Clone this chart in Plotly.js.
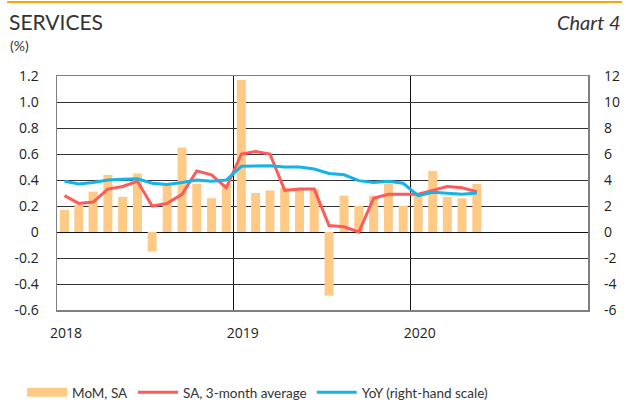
<!DOCTYPE html>
<html>
<head>
<meta charset="utf-8">
<script src="https://cdn.plot.ly/plotly-3.0.1.min.js"></script>
<style>html,body{margin:0;padding:0;background:#fff;}#chart{width:630px;height:403px;}</style>
</head>
<body>
<div id="chart"></div>
<script>
const months = ["2018-01","2018-02","2018-03","2018-04","2018-05","2018-06","2018-07","2018-08","2018-09","2018-10","2018-11","2018-12",
"2019-01","2019-02","2019-03","2019-04","2019-05","2019-06","2019-07","2019-08","2019-09","2019-10","2019-11","2019-12",
"2020-01","2020-02","2020-03","2020-04","2020-05"];
const momSA = [0.17,0.21,0.31,0.44,0.27,0.45,-0.15,0.36,0.65,0.37,0.26,0.37,
1.17,0.30,0.32,0.34,0.33,0.33,-0.49,0.28,0.20,0.28,0.37,0.20,
0.28,0.47,0.27,0.26,0.37];
const sa3m = [0.28,0.22,0.23,0.33,0.35,0.39,0.20,0.22,0.29,0.47,0.44,0.34,
0.60,0.62,0.60,0.32,0.33,0.33,0.05,0.04,0.00,0.26,0.29,0.29,
0.29,0.32,0.35,0.34,0.31];
const yoy = [3.9,3.7,3.8,4.0,4.05,4.1,3.75,3.65,3.8,4.0,3.9,4.0,
5.05,5.1,5.1,5.0,5.0,4.85,4.5,4.4,3.95,3.8,3.9,3.75,
2.8,3.05,3.0,2.9,3.0];
const yearTicks = ["2018-01-01","2019-01-01","2020-01-01"];
const yearText = ["2018","2019","2020"];
const leftTicks = [-0.6,-0.4,-0.2,0,0.2,0.4,0.6,0.8,1.0,1.2];
const leftText = ["-0.6","-0.4","-0.2","0","0.2","0.4","0.6","0.8","1.0","1.2"];
const rightTicks = [-6,-4,-2,0,2,4,6,8,10,12];
const rightText = ["-6","-4","-2","0","2","4","6","8","10","12"];

const barColor = "#FFCA85", redColor = "#FF5A5A", blueColor = "#14B4E6";
const tickFont = {family:"Open Sans, sans-serif", size:14, color:"#222"};

const traces = [
  {type:"bar", x:months, y:momSA, xperiod:"M1", xperiodalignment:"middle",
   marker:{color:barColor}, showlegend:false, name:"MoM, SA", hoverinfo:"skip"},
  {type:"scatter", mode:"lines", x:[null], y:[null], name:"MoM, SA",
   line:{color:barColor, width:9}},
  {type:"scatter", mode:"lines", x:months, y:sa3m, xperiod:"M1", xperiodalignment:"middle",
   name:"SA, 3-month average", line:{color:redColor, width:3}},
  {type:"scatter", mode:"lines", x:months, y:yoy, xperiod:"M1", xperiodalignment:"middle",
   yaxis:"y2", name:"YoY (right-hand scale)", line:{color:blueColor, width:3}}
];

const layout = {
  width:630, height:403,
  margin:{l:57, r:42, t:76, b:93},
  paper_bgcolor:"#fff", plot_bgcolor:"#fff",
  bargap:0.37,
  showlegend:true,
  legend:{orientation:"h", xref:"container", yref:"container", x:0.035, y:0.026,
    xanchor:"left", yanchor:"middle", itemwidth:40, font:{family:"Lato, sans-serif", size:13.5, color:"#333"},
    traceorder:"normal"},
  xaxis:{type:"date", range:["2018-01-01","2021-01-01"], tickvals:yearTicks, ticktext:yearText,
    ticklabelshift:9, ticklabelstandoff:10, ticks:"", showgrid:true, gridcolor:"#111", gridwidth:1,
    showline:true, mirror:true, linecolor:"#808080", linewidth:1.5,
    tickfont:tickFont, fixedrange:true},
  yaxis:{range:[-0.6,1.2], tickvals:leftTicks, ticktext:leftText, showgrid:true, gridcolor:"#333", gridwidth:1,
    zeroline:true, zerolinecolor:"#111", zerolinewidth:1,
    showline:true, mirror:true, linecolor:"#808080", linewidth:1.5, ticks:"", ticklabelstandoff:14,
    tickfont:tickFont},
  yaxis2:{range:[-6,12], tickvals:rightTicks, ticktext:rightText, overlaying:"y", side:"right",
    showgrid:false, zeroline:false, ticks:"", ticklabelstandoff:15, tickfont:tickFont},
  annotations:[
    {text:"SERVICES", xref:"paper", yref:"paper", x:-0.094, y:1.231, xanchor:"left", yanchor:"middle",
     showarrow:false, font:{family:"Lato, sans-serif", size:21, color:"#333"}},
    {text:"(%)", xref:"paper", yref:"paper", x:-0.092, y:1.132, xanchor:"left", yanchor:"middle",
     showarrow:false, font:{family:"Lato, sans-serif", size:14, color:"#333"}},
    {text:"<i>Chart 4</i>", xref:"paper", yref:"paper", x:1.066, y:1.231, xanchor:"right", yanchor:"middle",
     showarrow:false, font:{family:"Lato, sans-serif", size:20, color:"#333"}}
  ],
  shapes:[
    {type:"line", xref:"paper", yref:"paper", x0:-0.094, x1:1.064, y0:1.316, y1:1.316,
     line:{color:"#FFA500", width:2}}
  ]
};

Plotly.newPlot("chart", traces, layout, {displayModeBar:false, staticPlot:true});
</script>
</body>
</html>
